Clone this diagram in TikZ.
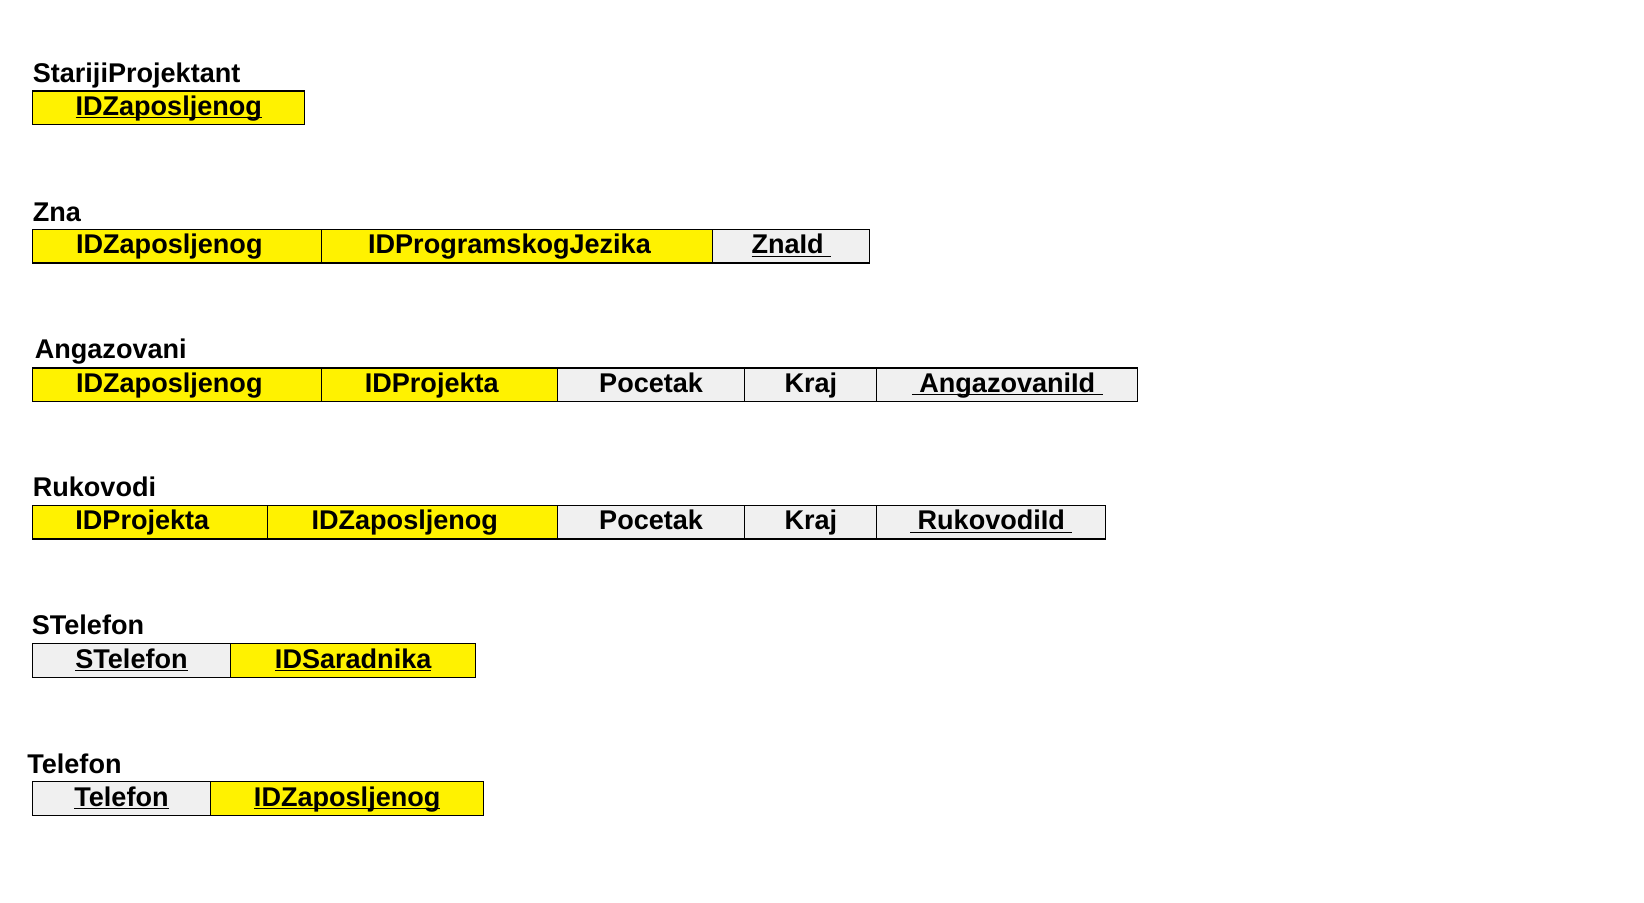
\documentclass[tikz,border=0pt]{standalone}
\usepackage{fontspec}
\setmainfont{Liberation Sans}
\usetikzlibrary{positioning}
\definecolor{keyyellow}{RGB}{255,242,0}
\definecolor{cellgray}{RGB}{240,240,240}
\newcommand{\keyline}[1]{\underline{\smash{#1}}}
\begin{document}
\begin{tikzpicture}[x=0.02cm, y=-0.02cm, font=\fontsize{15.4pt}{18pt}\selectfont\bfseries]
        % Define styles
        \tikzset{
            relname/.style={anchor=base west, inner sep=0pt},
            attr/.style={rectangle, draw, line width=0.6pt, anchor=north west, inner sep=0pt, outer sep=0pt, minimum height=0.67cm, text height=0.86em, text depth=0pt},
            pkey/.style={attr, fill=keyyellow},
            fkey/.style={attr, fill=keyyellow, execute at end node={\hspace*{9pt}}},
            plain/.style={attr, fill=cellgray}
        }
        \useasboundingbox (0,0) rectangle (1644,903);

        % StarijiProjektant
        \node[relname] (starij_name) at (32.5,82) {StarijiProjektant};
        \node[pkey, minimum width=5.45cm] (starij_1) at (32.5,91) {\keyline{IDZaposljenog}};

        % Zna
        \node[relname] (zna_name) at (32.5,221) {Zna};
        \node[fkey, minimum width=5.79cm] (zna_1) at (32.5,229.5) {IDZaposljenog};
        \node[fkey, minimum width=7.82cm, right=0pt of zna_1] (zna_2) {IDProgramskogJezika};
        \node[plain, minimum width=3.14cm, right=0pt of zna_2] (zna_3) {\keyline{ZnaId\ }};

        % Angazovani
        \node[relname] (angaz_name) at (34.5,358) {Angazovani};
        \node[fkey, minimum width=5.79cm] (angaz_1) at (32.5,368) {IDZaposljenog};
        \node[fkey, minimum width=4.71cm, right=0pt of angaz_1] (angaz_2) {IDProjekta};
        \node[plain, minimum width=3.75cm, right=0pt of angaz_2] (angaz_3) {Pocetak};
        \node[plain, minimum width=2.64cm, right=0pt of angaz_3] (angaz_4) {Kraj};
        \node[plain, minimum width=5.22cm, right=0pt of angaz_4] (angaz_5) {\keyline{\ AngazovaniId\ }};

        % Rukovodi
        \node[relname] (rukov_name) at (32.5,496) {Rukovodi};
        \node[fkey, minimum width=4.71cm] (rukov_1) at (32.5,505.5) {IDProjekta};
        \node[fkey, minimum width=5.79cm, right=0pt of rukov_1] (rukov_2) {IDZaposljenog};
        \node[plain, minimum width=3.75cm, right=0pt of rukov_2] (rukov_3) {Pocetak};
        \node[plain, minimum width=2.64cm, right=0pt of rukov_3] (rukov_4) {Kraj};
        \node[plain, minimum width=4.58cm, right=0pt of rukov_4] (rukov_5) {\keyline{\ RukovodiId\ }};

        % STelefon
        \node[relname] (stel_name) at (31.5,634) {STelefon};
        \node[plain, minimum width=3.96cm] (stel_1) at (32.5,643.7) {\keyline{STelefon}};
        \node[pkey, minimum width=4.91cm, right=0pt of stel_1] (stel_2) {\keyline{IDSaradnika}};

        % Telefon
        \node[relname] (tel_name) at (27,773) {Telefon};
        \node[plain, minimum width=3.56cm] (tel_1) at (32.5,781.7) {\keyline{Telefon}};
        \node[pkey, minimum width=5.47cm, right=0pt of tel_1] (tel_2) {\keyline{IDZaposljenog}};
    \end{tikzpicture}
\end{document}
